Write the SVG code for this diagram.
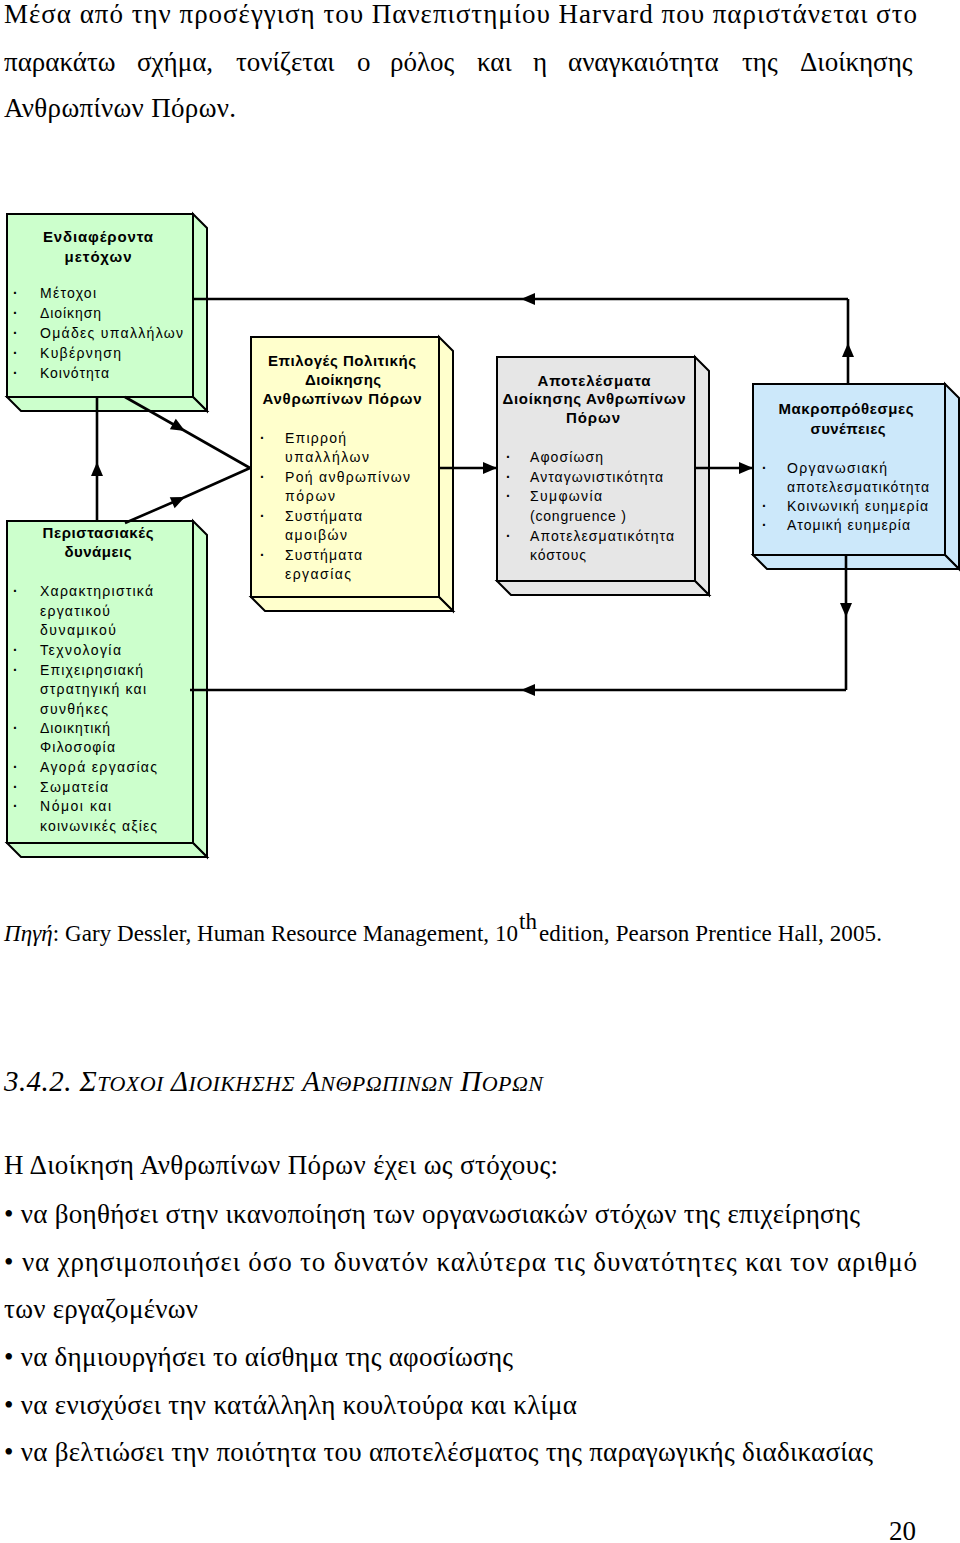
<svg xmlns="http://www.w3.org/2000/svg" width="960" height="1543" viewBox="0 0 960 1543">
<defs>
<style>
.pg{font-family:"Liberation Serif","Times New Roman",serif;font-size:27px;fill:#000}
.cap{font-family:"Liberation Serif","Times New Roman",serif;font-size:23px;fill:#000}
.hd{font-family:"Liberation Serif","Times New Roman",serif;font-style:italic;font-size:29px;fill:#000}
.sc{font-size:22px}
.tt{font-family:"Liberation Sans",Arial,sans-serif;font-weight:bold;font-size:15px;text-anchor:middle;fill:#000}
.it{font-family:"Liberation Sans",Arial,sans-serif;font-size:14px;fill:#000}
.bl{font-family:"Liberation Sans",Arial,sans-serif;font-size:14px;font-weight:bold;fill:#000}
.box{stroke:#000;stroke-width:2;stroke-linejoin:miter}
.g{fill:#CCFFCC}
.y{fill:#FFFFCC}
.gr{fill:#E6E6E6}
.b{fill:#CCE8FA}
.ln{fill:none;stroke:#000;stroke-width:2.6}
</style>
<marker id="ah" markerUnits="userSpaceOnUse" markerWidth="16" markerHeight="14" refX="14" refY="7" orient="auto" overflow="visible">
<path d="M0,1 L14,7 L0,13 Z" fill="#000"/>
</marker>
</defs>
<rect x="0" y="0" width="960" height="1543" fill="#fff"/>

<g id="intro">
<text class="pg" x="4" y="23" textLength="913">Μέσα από την προσέγγιση του Πανεπιστημίου Harvard που παριστάνεται στο</text>
<text class="pg" y="71"><tspan x="4">παρακάτω</tspan><tspan x="137">σχήμα,</tspan><tspan x="236">τονίζεται</tspan><tspan x="357">ο</tspan><tspan x="390">ρόλος</tspan><tspan x="477">και</tspan><tspan x="533">η</tspan><tspan x="568">αναγκαιότητα</tspan><tspan x="742">της</tspan><tspan x="800">Διοίκησης</tspan></text>
<text class="pg" x="4" y="117" textLength="232">Ανθρωπίνων Πόρων.</text>
</g>

<g id="box-stakeholders">
<polygon class="box g" points="193,214 207,228 207,411 193,397"/>
<polygon class="box g" points="7,397 193,397 207,411 21,411"/>
<rect class="box g" x="7" y="214" width="186" height="183"/>
<text class="tt" x="98" y="242" textLength="110">Ενδιαφέροντα</text>
<text class="tt" x="98" y="262" textLength="67">μετόχων</text>
<text class="bl" x="13" y="298">·</text><text class="it" x="40" y="298" textLength="56">Μέτοχοι</text>
<text class="bl" x="13" y="318">·</text><text class="it" x="40" y="318" textLength="61">Διοίκηση</text>
<text class="bl" x="13" y="338">·</text><text class="it" x="40" y="338" textLength="143">Ομάδες υπαλλήλων</text>
<text class="bl" x="13" y="358">·</text><text class="it" x="40" y="358" textLength="81">Κυβέρνηση</text>
<text class="bl" x="13" y="378">·</text><text class="it" x="40" y="378" textLength="69">Κοινότητα</text>
</g>

<g id="box-situational">
<polygon class="box g" points="193,521 207,535 207,857 193,843"/>
<polygon class="box g" points="7,843 193,843 207,857 21,857"/>
<rect class="box g" x="7" y="521" width="186" height="322"/>
<text class="tt" x="98" y="538" textLength="111">Περιστασιακές</text>
<text class="tt" x="98" y="557" textLength="67">δυνάμεις</text>
<text class="bl" x="13" y="596">·</text><text class="it" x="40" y="596" textLength="113">Χαρακτηριστικά</text>
<text class="it" x="40" y="616" textLength="70">εργατικού</text>
<text class="it" x="40" y="635" textLength="76">δυναμικού</text>
<text class="bl" x="13" y="655">·</text><text class="it" x="40" y="655" textLength="81">Τεχνολογία</text>
<text class="bl" x="13" y="675">·</text><text class="it" x="40" y="675" textLength="103">Επιχειρησιακή</text>
<text class="it" x="40" y="694" textLength="106">στρατηγική και</text>
<text class="it" x="40" y="714" textLength="68">συνθήκες</text>
<text class="bl" x="13" y="733">·</text><text class="it" x="40" y="733" textLength="70">Διοικητική</text>
<text class="it" x="40" y="752" textLength="75">Φιλοσοφία</text>
<text class="bl" x="13" y="772">·</text><text class="it" x="40" y="772" textLength="117">Αγορά εργασίας</text>
<text class="bl" x="13" y="792">·</text><text class="it" x="40" y="792" textLength="68">Σωματεία</text>
<text class="bl" x="13" y="811">·</text><text class="it" x="40" y="811" textLength="71">Νόμοι και</text>
<text class="it" x="40" y="831" textLength="117">κοινωνικές αξίες</text>
</g>

<g id="box-policy">
<polygon class="box y" points="439,337 453,351 453,611 439,597"/>
<polygon class="box y" points="251,597 439,597 453,611 265,611"/>
<rect class="box y" x="251" y="337" width="188" height="260"/>
<text class="tt" x="342" y="366" textLength="148">Επιλογές Πολιτικής</text>
<text class="tt" x="343" y="385" textLength="76">Διοίκησης</text>
<text class="tt" x="342" y="404" textLength="159">Ανθρωπίνων Πόρων</text>
<text class="bl" x="260" y="443">·</text><text class="it" x="285" y="443" textLength="61">Επιρροή</text>
<text class="it" x="285" y="462" textLength="84">υπαλλήλων</text>
<text class="bl" x="260" y="482">·</text><text class="it" x="285" y="482" textLength="125">Ροή ανθρωπίνων</text>
<text class="it" x="285" y="501" textLength="50">πόρων</text>
<text class="bl" x="260" y="521">·</text><text class="it" x="285" y="521" textLength="77">Συστήματα</text>
<text class="it" x="285" y="540" textLength="62">αμοιβών</text>
<text class="bl" x="260" y="560">·</text><text class="it" x="285" y="560" textLength="77">Συστήματα</text>
<text class="it" x="285" y="579" textLength="66">εργασίας</text>
</g>

<g id="box-outcomes">
<polygon class="box gr" points="695,357 709,371 709,595 695,581"/>
<polygon class="box gr" points="497,581 695,581 709,595 511,595"/>
<rect class="box gr" x="497" y="357" width="198" height="224"/>
<text class="tt" x="594" y="386" textLength="113">Αποτελέσματα</text>
<text class="tt" x="594" y="404" textLength="183">Διοίκησης Ανθρωπίνων</text>
<text class="tt" x="593" y="423" textLength="54">Πόρων</text>
<text class="bl" x="506" y="462">·</text><text class="it" x="530" y="462" textLength="73">Αφοσίωση</text>
<text class="bl" x="506" y="482">·</text><text class="it" x="530" y="482" textLength="133">Ανταγωνιστικότητα</text>
<text class="bl" x="506" y="501">·</text><text class="it" x="530" y="501" textLength="72">Συμφωνία</text>
<text class="it" x="530" y="521" textLength="96">(congruence )</text>
<text class="bl" x="506" y="541">·</text><text class="it" x="530" y="541" textLength="144">Αποτελεσματικότητα</text>
<text class="it" x="530" y="560" textLength="56">κόστους</text>
</g>

<g id="box-consequences">
<polygon class="box b" points="945,384 959,398 959,569 945,555"/>
<polygon class="box b" points="753,555 945,555 959,569 767,569"/>
<rect class="box b" x="753" y="384" width="192" height="171"/>
<text class="tt" x="846" y="414" textLength="135">Μακροπρόθεσμες</text>
<text class="tt" x="848" y="434" textLength="75">συνέπειες</text>
<text class="bl" x="762" y="473">·</text><text class="it" x="787" y="473" textLength="100">Οργανωσιακή</text>
<text class="it" x="787" y="492" textLength="142">αποτελεσματικότητα</text>
<text class="bl" x="762" y="511">·</text><text class="it" x="787" y="511" textLength="141">Κοινωνική ευημερία</text>
<text class="bl" x="762" y="530">·</text><text class="it" x="787" y="530" textLength="123">Ατομική ευημερία</text>
</g>

<g id="connectors">
<path class="ln" d="M848,384 L848,343 L848,299" marker-mid="url(#ah)"/>
<path class="ln" d="M848,299 L521,299 L193,299" marker-mid="url(#ah)"/>
<path class="ln" d="M846,555 L846,617 L846,690" marker-mid="url(#ah)"/>
<path class="ln" d="M846,690 L521,690 L190,690" marker-mid="url(#ah)"/>
<path class="ln" d="M97,521 L97,462 L97,397" marker-mid="url(#ah)"/>
<path class="ln" d="M125,397 L185,431 L250,468" marker-mid="url(#ah)"/>
<path class="ln" d="M125,523 L185,497 L250,468" marker-mid="url(#ah)"/>
<path class="ln" d="M439,468 L497,468" marker-end="url(#ah)"/>
<path class="ln" d="M695,468 L753,468" marker-end="url(#ah)"/>
</g>

<g id="caption">
<text class="cap" x="4" y="941" textLength="514"><tspan font-style="italic">Πηγή</tspan>: Gary Dessler, Human Resource Management, 10</text>
<text class="cap" x="519" y="929" font-size="13">th</text>
<text class="cap" x="539" y="941" textLength="343">edition, Pearson Prentice Hall, 2005.</text>
</g>

<g id="section">
<text class="hd" x="4" y="1091" textLength="539">3.4.2. Σ<tspan class="sc">ΤΟΧΟΙ</tspan> Δ<tspan class="sc">ΙΟΙΚΗΣΗΣ</tspan> Α<tspan class="sc">ΝΘΡΩΠΙΝΩΝ</tspan> Π<tspan class="sc">ΟΡΩΝ</tspan></text>
<text class="pg" x="4" y="1174" textLength="554">Η Διοίκηση Ανθρωπίνων Πόρων έχει ως στόχους:</text>
<text class="pg" x="4" y="1223" textLength="856">• να βοηθήσει στην ικανοποίηση των οργανωσιακών στόχων της επιχείρησης</text>
<text class="pg" x="4" y="1271" textLength="913">• να χρησιμοποιήσει όσο το δυνατόν καλύτερα τις δυνατότητες και τον αριθμό</text>
<text class="pg" x="4" y="1318" textLength="194">των εργαζομένων</text>
<text class="pg" x="4" y="1366" textLength="509">• να δημιουργήσει το αίσθημα της αφοσίωσης</text>
<text class="pg" x="4" y="1414" textLength="573">• να ενισχύσει την κατάλληλη κουλτούρα και κλίμα</text>
<text class="pg" x="4" y="1461" textLength="869">• να βελτιώσει την ποιότητα του αποτελέσματος της παραγωγικής διαδικασίας</text>
<text class="pg" x="916" y="1540" font-size="25" text-anchor="end">20</text>
</g>
</svg>
